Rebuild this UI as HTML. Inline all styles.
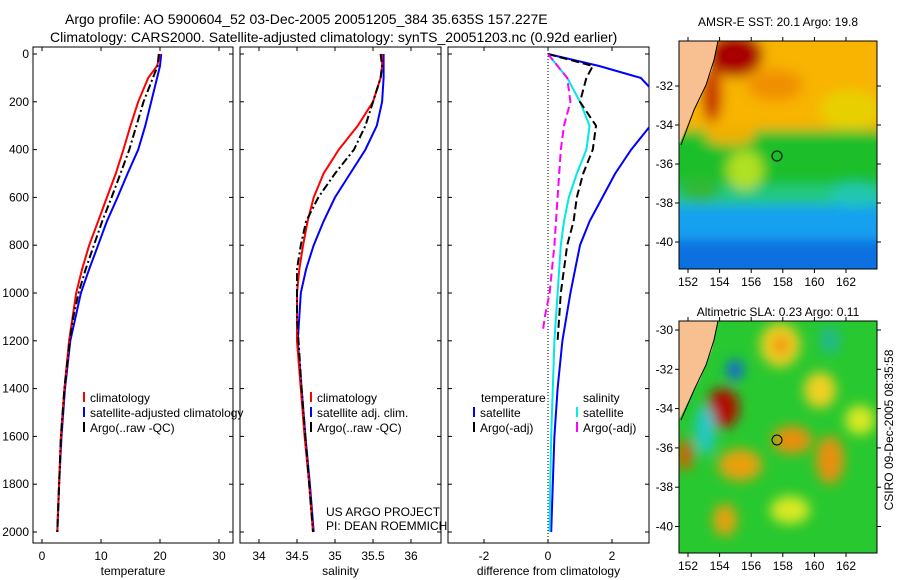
<!DOCTYPE html>
<html><head><meta charset="utf-8"><style>
body{margin:0;background:#fff;font-family:"Liberation Sans",sans-serif;overflow:hidden}
svg text{font-family:"Liberation Sans",sans-serif;font-size:12px;fill:#000}
</style></head><body>
<svg id="c" width="900" height="580" xmlns="http://www.w3.org/2000/svg" style="display:block">
<defs>
<filter id="bl" x="-20%" y="-20%" width="140%" height="140%"><feGaussianBlur stdDeviation="6"/></filter>
<clipPath id="cp1"><rect x="33" y="47" width="200" height="496"/></clipPath>
<clipPath id="cp2"><rect x="240" y="47" width="201" height="496"/></clipPath>
<clipPath id="cp3"><rect x="448" y="47" width="201" height="496"/></clipPath>
<clipPath id="cm1"><rect x="679" y="41" width="198" height="228"/></clipPath>
<clipPath id="cm2"><rect x="679" y="321" width="198" height="232"/></clipPath>
</defs>
<text x="65" y="24" style="font-size:14px">Argo profile: AO 5900604_52 03-Dec-2005 20051205_384 35.635S 157.227E</text>
<text x="50" y="42" style="font-size:14px">Climatology: CARS2000. Satellite-adjusted climatology: synTS_20051203.nc (0.92d earlier)</text>
<g id="plots"></g>

<!-- SST map -->
<g clip-path="url(#cm1)">
<rect x="679" y="41" width="198" height="228" fill="#1e8cf0"/>
<g filter="url(#bl)">
<rect x="660" y="20" width="240" height="115" fill="#f8b400"/>
<rect x="660" y="130" width="240" height="60" fill="#1fbf2a"/>
<rect x="660" y="185" width="240" height="25" fill="#22c880"/>
<rect x="660" y="205" width="240" height="40" fill="#18a0f0"/>
<rect x="660" y="240" width="240" height="40" fill="#1070e0"/>
<ellipse cx="735" cy="55" rx="28" ry="22" fill="#a80000"/>
<ellipse cx="712" cy="95" rx="10" ry="28" fill="#c83000"/>
<ellipse cx="775" cy="85" rx="28" ry="16" fill="#f09000"/>
<ellipse cx="850" cy="110" rx="30" ry="20" fill="#e8d000"/>
<ellipse cx="730" cy="135" rx="25" ry="10" fill="#f0b000"/>
<ellipse cx="745" cy="170" rx="18" ry="20" fill="#b0e020"/>
<ellipse cx="855" cy="195" rx="25" ry="12" fill="#20c8b0"/>
<ellipse cx="700" cy="190" rx="20" ry="12" fill="#30b838"/>
</g>
<polygon points="679,41 718,41 712,70 700,100 690,118 679,145" fill="#f8c090"/>
<polyline points="718,41 714,60 706,85 694,110 681,145" fill="none" stroke="#000"/>
<circle cx="777" cy="156" r="5" fill="none" stroke="#000"/>
</g>
<rect x="679" y="41" width="198" height="228" fill="none" stroke="#000"/>
<text x="778" y="26" text-anchor="middle">AMSR-E SST: 20.1 Argo: 19.8</text>

<!-- SLA map -->
<g clip-path="url(#cm2)">
<rect x="679" y="321" width="198" height="232" fill="#28c830"/>
<g filter="url(#bl)">
<ellipse cx="780" cy="345" rx="20" ry="22" fill="#f0d020"/>
<ellipse cx="781" cy="345" rx="8" ry="10" fill="#f09010"/>
<ellipse cx="723" cy="408" rx="16" ry="20" fill="#b01000"/>
<ellipse cx="735" cy="370" rx="8" ry="10" fill="#1060e0"/>
<ellipse cx="705" cy="430" rx="10" ry="25" fill="#20c8c8"/>
<ellipse cx="792" cy="440" rx="20" ry="14" fill="#e89010"/>
<ellipse cx="740" cy="465" rx="22" ry="16" fill="#e8a010"/>
<ellipse cx="830" cy="460" rx="14" ry="24" fill="#e89010"/>
<ellipse cx="685" cy="455" rx="8" ry="16" fill="#d06000"/>
<ellipse cx="725" cy="520" rx="12" ry="16" fill="#e8a010"/>
<ellipse cx="820" cy="390" rx="16" ry="18" fill="#f0d020"/>
<ellipse cx="860" cy="420" rx="15" ry="15" fill="#d8e820"/>
<ellipse cx="790" cy="510" rx="20" ry="14" fill="#d8e820"/>
<ellipse cx="830" cy="340" rx="10" ry="14" fill="#20b890"/>
</g>
<polygon points="679,321 718,321 712,350 700,380 690,398 679,420" fill="#f8c090"/>
<polyline points="718,321 714,340 706,365 694,390 681,420" fill="none" stroke="#000"/>
<circle cx="777" cy="440" r="5" fill="none" stroke="#000"/>
</g>
<rect x="679" y="321" width="198" height="232" fill="none" stroke="#000"/>
<text x="778" y="316" text-anchor="middle">Altimetric SLA: 0.23 Argo: 0.11</text>
<text transform="translate(893,430) rotate(-90)" text-anchor="middle">CSIRO 09-Dec-2005 08:35:58</text>
<g id="maxes"></g>
</svg>
<script>
const depths=[0,50,100,200,300,400,500,600,700,800,900,1000,1200,1400,1600,1800,2000];
const tempClim=[20,19.5,18,16.3,15,13.8,12.5,11,9.5,8,6.8,5.8,4.6,3.8,3.2,2.9,2.6];
const tempSat=[20.2,20,19.5,18.5,17.5,16.3,14.5,12.8,11,9.5,8,6.6,4.8,3.9,3.3,2.9,2.6];
const argoDepths=[0,50,100,200,300,400,500,600,700,800,900,1000,1100,1200,1400,1600,1800,2000];
const tempArgo=[19.8,19.6,18.8,17.2,16,14.8,13.3,11.8,10.2,8.8,7.4,6.2,5.3,4.7,3.8,3.2,2.9,2.6];
const salClim=[35.62,35.62,35.6,35.5,35.3,35.05,34.85,34.72,34.64,34.58,34.53,34.5,34.5,34.55,34.6,34.66,34.71];
const salSat=[35.64,35.64,35.64,35.62,35.55,35.4,35.2,35.0,34.85,34.72,34.62,34.55,34.51,34.56,34.61,34.67,34.72];
const salArgo=[35.6,35.62,35.6,35.5,35.4,35.25,35.0,34.78,34.62,34.55,34.5,34.5,34.5,34.52,34.56,34.61,34.66,34.71];
const dTempSat=[0,1.6,2.9,3.6,3.2,2.6,2.1,1.7,1.3,1.0,0.85,0.7,0.45,0.3,0.2,0.15,0.1];
const dDepthsArgo=[0,50,100,200,300,400,500,600,700,800,900,1000,1100,1200];
const dTempArgo=[0,1.4,1.2,1.0,1.5,1.4,1.1,0.9,0.8,0.6,0.5,0.4,0.35,0.3];
const dSalSat=[0,0.3,0.6,1.0,1.3,1.2,0.9,0.65,0.5,0.4,0.35,0.3,0.2,0.15,0.1,0.07,0.05];
const dDepthsSalArgo=[0,50,100,200,300,400,500,600,800,1000,1100,1150];
const dSalArgo=[0,0.3,0.6,0.7,0.5,0.4,0.35,0.3,0.2,0.05,-0.1,-0.15];
const depthTicks=[0,200,400,600,800,1000,1200,1400,1600,1800,2000];
const tempTicks=[0,10,20,30], salTicks=[34,34.5,35,35.5,36], diffTicks=[-2,0,2];
const lonTicks=[152,154,156,158,160,162], latTicks1=[-32,-34,-36,-38,-40], latTicks2=[-30,-32,-34,-36,-38,-40];

const NS="http://www.w3.org/2000/svg";
const g=document.getElementById('plots'), ma=document.getElementById('maxes');
function el(p,t,a){const e=document.createElementNS(NS,t);for(const k in a)e.setAttribute(k,a[k]);p.appendChild(e);return e;}
const yS=d=>54+d*0.239;
const panels=[
 {x0:33,w:200,sx:v=>42+v*5.9,ticks:tempTicks,lab:'temperature',cp:'cp1',name:'temperature'},
 {x0:240,w:201,sx:v=>259+(v-34)*76,ticks:salTicks,lab:'salinity',cp:'cp2',name:'salinity'},
 {x0:448,w:201,sx:v=>548+v*32,ticks:diffTicks,lab:'difference from climatology',cp:'cp3',name:'difference'}];
panels.forEach((p,i)=>{
 const f=el(g,'rect',{x:p.x0,y:47,width:p.w,height:496,fill:'none',stroke:'#000'});
 
 
 p.ticks.forEach(t=>{const x=p.sx(t);
  el(g,'line',{x1:x,x2:x,y1:543,y2:539,stroke:'#000'});el(g,'line',{x1:x,x2:x,y1:47,y2:51,stroke:'#000'});
  const tx=el(g,'text',{x:x,y:560,'text-anchor':'middle'});tx.textContent=t;
  
  });
 const xl=el(g,'text',{x:p.x0+p.w/2,y:575,'text-anchor':'middle'});xl.textContent=p.lab;
 
 
 depthTicks.forEach(d=>{const y=yS(d);
  el(g,'line',{x1:p.x0,x2:p.x0+4,y1:y,y2:y,stroke:'#000'});el(g,'line',{x1:p.x0+p.w,x2:p.x0+p.w-4,y1:y,y2:y,stroke:'#000'});
  if(i==0){const t=el(g,'text',{x:29,y:y+4,'text-anchor':'end'});t.textContent=d;
   
   }});
});
function line(p,dd,vals,col,dash,name){
 const pts=vals.map((v,k)=>p.sx(v).toFixed(1)+','+yS(dd[k]).toFixed(1)).join(' ');
 const e=el(g,'polyline',{points:pts,fill:'none',stroke:col,'stroke-width':2,'clip-path':'url(#'+p.cp+')'});
 if(dash)e.setAttribute('stroke-dasharray',dash);
 
 
}
el(g,'line',{x1:548,x2:548,y1:47,y2:543,stroke:'#000','stroke-dasharray':'1,2'});
line(panels[0],depths,tempSat,'#0000ff',null,'temp-satellite-line');
line(panels[0],depths,tempClim,'#ff0000',null,'temp-climatology-line');
line(panels[0],argoDepths,tempArgo,'#000',"8,3,2,3",'temp-argo-line');
line(panels[1],depths,salSat,'#0000ff',null,'sal-satellite-line');
line(panels[1],depths,salClim,'#ff0000',null,'sal-climatology-line');
line(panels[1],argoDepths,salArgo,'#000',"8,3,2,3",'sal-argo-line');
line(panels[2],depths,dTempSat,'#0000ff',null,'dtemp-satellite-line');
line(panels[2],depths,dSalSat,'#00e8e8',null,'dsal-satellite-line');
line(panels[2],dDepthsArgo,dTempArgo,'#000',"8,4",'dtemp-argo-line');
line(panels[2],dDepthsSalArgo,dSalArgo,'#ff00ff',"8,4",'dsal-argo-line');
function leg(x,y,col,txt,name){el(g,'line',{x1:x,x2:x,y1:y-10,y2:y,stroke:col,'stroke-width':2});
 const t=el(g,'text',{x:x+6,y:y});t.textContent=txt;
 
 }
leg(84,402,'#f00','climatology','legend-temp-climatology');leg(84,417,'#00f','satellite-adjusted climatology','legend-temp-satellite');leg(84,432,'#000','Argo(..raw -QC)','legend-temp-argo');
leg(311,402,'#f00','climatology','legend-sal-climatology');leg(311,417,'#00f','satellite adj. clim.','legend-sal-satellite');leg(311,432,'#000','Argo(..raw -QC)','legend-sal-argo');
const t1=el(g,'text',{x:481,y:402});t1.textContent='temperature';
const t2=el(g,'text',{x:583,y:402});t2.textContent='salinity';
leg(474,417,'#00f','satellite','legend-dtemp-satellite');leg(474,432,'#000','Argo(-adj)','legend-dtemp-argo');
leg(577,417,'#0ee','satellite','legend-dsal-satellite');leg(577,432,'#f0f','Argo(-adj)','legend-dsal-argo');
const u1=el(g,'text',{x:326,y:516});u1.textContent='US ARGO PROJECT';
const u2=el(g,'text',{x:326,y:530});u2.textContent='PI: DEAN ROEMMICH';
function mapAxes(y0,y1,lats,latY){
 lonTicks.forEach(l=>{const x=688+(l-152)*15.8;
  el(ma,'line',{x1:x,x2:x,y1:y1,y2:y1+4,stroke:'#000'});el(ma,'line',{x1:x,x2:x,y1:y0,y2:y0-4,stroke:'#000'});
  const t=el(ma,'text',{x:x,y:y1+17,'text-anchor':'middle'});t.textContent=l;
  
  });
 lats.forEach(l=>{const y=latY(l);
  el(ma,'line',{x1:679,x2:675,y1:y,y2:y,stroke:'#000'});el(ma,'line',{x1:877,x2:881,y1:y,y2:y,stroke:'#000'});
  const t=el(ma,'text',{x:673,y:y+4,'text-anchor':'end'});t.textContent=l;
  
  });
}
mapAxes(41,269,latTicks1,l=>86+(-32-l)*19.5);
mapAxes(321,553,latTicks2,l=>330+(-30-l)*19.65);
</script>
</body></html>
